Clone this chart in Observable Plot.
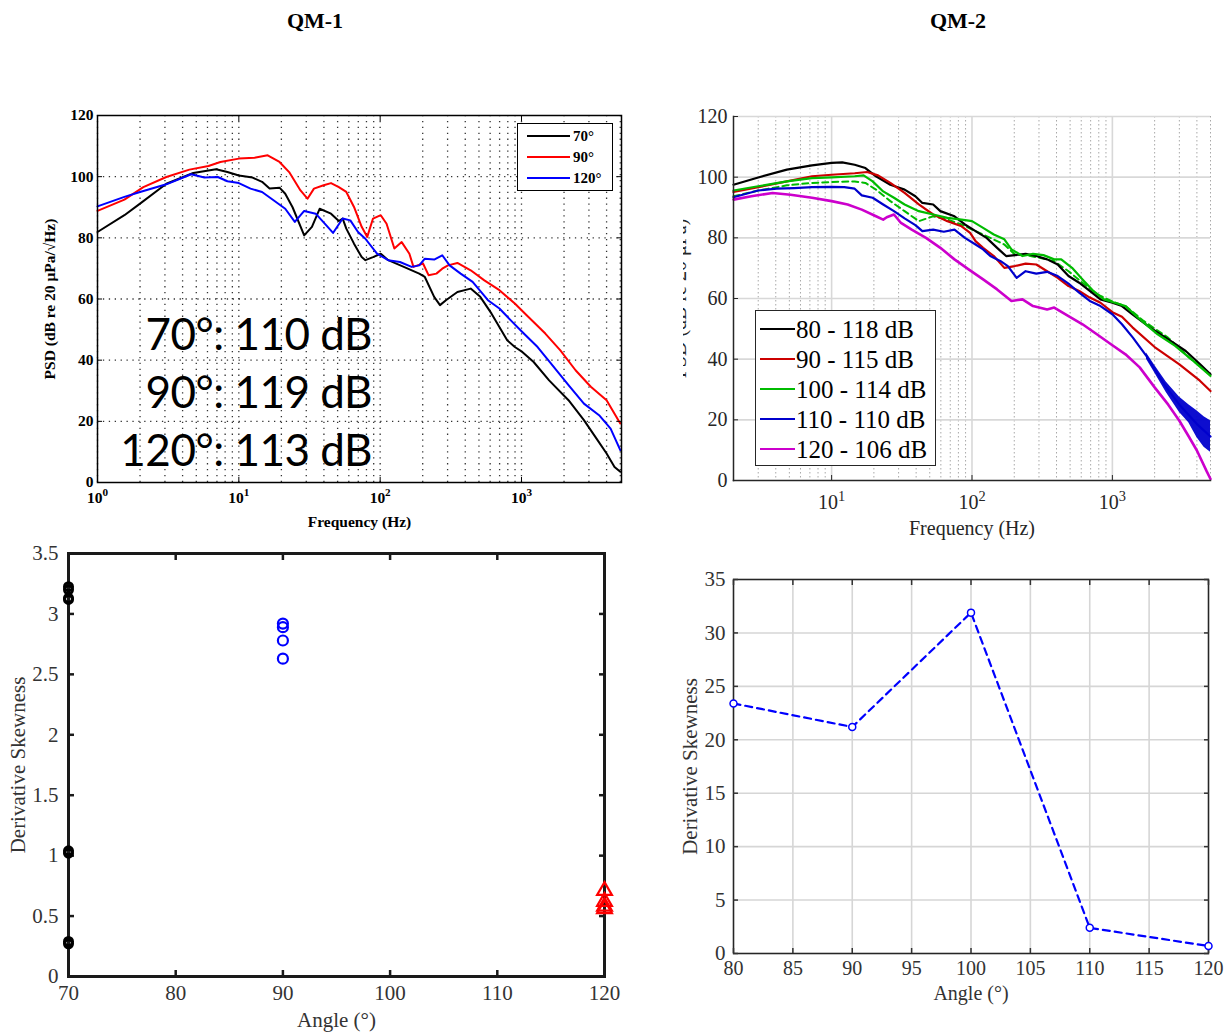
<!DOCTYPE html>
<html>
<head>
<meta charset="utf-8">
<script src="https://cdn.jsdelivr.net/npm/d3@7"></script>
<script src="https://cdn.jsdelivr.net/npm/@observablehq/plot@0.6"></script>
<style>
  html,body{margin:0;padding:0;background:#fff;}
  #fig{position:relative;width:1225px;height:1032px;overflow:hidden;background:#fff;}
  .box{position:absolute;}
  .title{position:absolute;top:8px;width:200px;text-align:center;font:bold 22px "Liberation Serif",serif;color:#000;}
  .note{position:absolute;left:0;top:304px;width:372px;text-align:right;font:44px Lato,"Open Sans",sans-serif;line-height:58px;color:#000;letter-spacing:-0.5px;}
  .legend{position:absolute;background:#fff;box-sizing:border-box;}
</style>
</head>
<body>
<div id="fig"></div>
<script>
// ---------------- DATA ----------------
const panelTitles = ["QM-1", "QM-2"];

// QM-1 PSD, [frequency (Hz), PSD (dB)]
const qm1_70 = [[1,81.9],[1.55,87.4],[2,91.2],[3.07,97.7],[4.76,101.2],[6.9,102.4],[8.3,101.5],[10,100.4],[12.5,99.7],[14.6,98.3],[16.5,96.1],[19.4,96.4],[21.3,94.4],[24,90],[29,80.8],[32.9,83.6],[37.3,89.5],[44.9,87.9],[51,85.5],[54.3,86.3],[57.6,83],[65.3,78.1],[74,73.7],[78.6,72.7],[89,73.7],[101,74.8],[114,72.7],[147,70.5],[189,68.3],[207,67.2],[241,60.7],[265,58],[292,59.6],[352,62.3],[437,63.4],[511,60.7],[614,55.2],[792,46.5],[897,44.3],[1013,42.7],[1219,39.4],[1568,33.4],[2151,26.9],[2765,20.4],[3330,14.9],[4000,9.5],[4553,5.1],[5000,3.5]];
const qm1_90 = [[1,88.8],[1.55,92.5],[2.11,96.6],[3.07,99.9],[4.47,102.3],[6.1,103.5],[7.4,104.8],[10,105.9],[12.9,106.2],[16,107],[19.4,104.8],[22.7,101.5],[27.3,95.5],[30.6,92.8],[34,96.1],[39.8,97.2],[44.9,97.9],[51,96.6],[57.6,95],[65.3,90.1],[74,83.6],[81,80.3],[89,86.3],[101,87.4],[111,84.6],[126,76.5],[142,78.6],[161,74.8],[172,70.5],[201,71.6],[220,67.8],[250,68.3],[275,69.9],[302,71],[352,71.8],[437,69.4],[546,66.1],[698,62.9],[897,58.5],[1088,54.7],[1474,48.7],[1883,43.2],[2413,36.7],[3094,31.3],[4000,26.9],[5000,19.3]];
const qm1_120 = [[1,90.3],[1.55,93.4],[2,95],[3.07,97.5],[4.6,100.8],[5.7,99.7],[7.1,99.9],[8.3,98.5],[10,97.9],[12.1,96.1],[14.6,95],[17.6,92.3],[21.3,89.5],[24.9,85.2],[29,88.8],[35,87.9],[41,84.4],[46.4,81.6],[54.3,86.3],[61.5,85.7],[69.7,81.9],[78.6,79.7],[95,74.8],[114,72.7],[138,72.1],[167,70.5],[189,71],[207,73.2],[241,72.9],[275,74.3],[310,71],[371,68.3],[451,65.6],[579,59.6],[698,56.9],[840,53],[1013,49.2],[1300,44.3],[1657,38.3],[2151,31.8],[2765,25.8],[3540,22],[4270,17.6],[5000,10.6]];
const qm1Legend = ["70°", "90°", "120°"];
const qm1Colors = ["#000000", "#ff0000", "#0000ff"];
const qm1Oaspl = ["70°: 110 dB", "90°: 119 dB", "120°: 113 dB"];

// QM-2 PSD, [frequency (Hz), PSD (dB)]
const qm2_80 = [[2,97.5],[3,99.9],[4.8,102.5],[7.25,103.9],[10,104.7],[11.9,104.9],[14.6,104.1],[17.4,103],[20.7,100.3],[26.2,97.5],[33.1,95.9],[39.5,93.7],[44.3,91.5],[52.9,91],[59.5,88.8],[75,87.1],[89,84.4],[106,82.2],[127,80],[151,76.7],[175,74],[202,74.3],[241,74.7],[287,74],[343,72.9],[408,71.2],[487,67.4],[580,65.2],[690,62.5],[823,59.7],[1000,58.6],[1170,57.5],[1390,54.8],[1860,50.4],[2490,46.6],[3330,42.7],[4200,38.4],[5000,35]];
const qm2_90 = [[2,95.1],[3,96.7],[4.8,98.6],[7.25,100.3],[10,100.8],[14.6,101.3],[17.9,101.7],[21.4,100.6],[26.2,98.1],[33.1,94.8],[41.8,91],[52.9,87.7],[66.8,85.5],[84.3,83.8],[97,81.6],[106,78.9],[120,76.7],[143,74],[170,70.1],[202,70.7],[241,71.5],[287,71.2],[343,69],[408,66.8],[487,64.1],[580,62.5],[690,60.3],[823,58.6],[1000,55.5],[1170,54],[1390,50.5],[2000,44],[3000,38.3],[4200,32.9],[5000,29.5]];
const qm2_100 = [[2,95.6],[3,97],[4.8,98.6],[7.25,99.7],[10,99.9],[14.6,100.3],[16.9,100.6],[19.6,98.6],[23.3,95.3],[27.8,93.2],[33.1,91],[41.8,88.8],[52.9,87.7],[66.8,86.6],[84.3,86],[100,85.5],[120,83.3],[143,81.1],[170,79.5],[191,76.2],[229,74],[272,74.7],[323,74.3],[385,72.9],[432,72.9],[516,70.1],[613,66.3],[732,62.5],[871,59.7],[1040,58.6],[1240,57.5],[1565,53.2],[2100,48.2],[2800,44.4],[3750,39.5],[5000,34.5]];
const qm2_100dash = [[2,93.7],[3,95.6],[4.8,97.3],[7.25,98.1],[10,98.4],[14.6,98.6],[17.4,98.1],[20.7,95.9],[26.2,92.1],[33.1,88.8],[41.8,85.5],[52.9,87.1],[66.8,86],[84.3,84.4],[106,82.2],[135,80],[170,77.8],[202,74.5],[241,74.3],[303,73.4],[385,72.3],[487,69],[613,65.2],[775,61.4],[1000,59],[1240,57.5],[1670,52.6],[2490,47.1],[3530,40.5],[5000,35]];
const qm2_110 = [[2,93.4],[3,95.6],[4.05,96.2],[5.4,96.4],[7.25,96.7],[10,96.8],[12.3,96.7],[14.6,96.2],[16.4,94],[19.6,93.2],[23.3,91],[27.8,88.8],[33.1,86.4],[39.5,84.2],[44.3,82.2],[52.9,82.7],[63,82],[75,82.7],[89,80],[106,77.8],[120,76.2],[135,74],[160,72.3],[180,70.7],[208,66.8],[241,69],[287,68.2],[343,68.8],[408,67.4],[487,64.9],[580,61.9],[690,59.2],[823,57.5],[1000,54.8],[1170,51.5],[1400,47.1],[1750,41],[2000,36.7],[2420,30.7],[3000,25],[4000,18.6],[5000,14.5]];
// spread of the noisy 110° trace at high frequency
const qm2_110bandFreq = [1750, 2000, 2420, 3000, 3500, 4000, 4500, 5000];
const qm2_110bandLow = [40, 35.5, 29, 22.5, 19, 14.2, 11, 9.3];
const qm2_110bandHigh = [42, 38, 32.5, 27.5, 25, 23, 21, 19.7];
const qm2_120 = [[2,92.6],[2.68,93.7],[3.8,94.8],[5.1,94.2],[7.25,93.2],[10,92.1],[13,91],[16.4,89.3],[20.7,87.1],[23.3,86],[24.7,86.8],[27.8,87.7],[31.2,84.9],[37.2,82.7],[47,80],[59.5,76.7],[75,72.9],[94.6,69.6],[120,66.3],[151,63],[191,59.2],[229,59.7],[272,57.5],[343,56.4],[385,57],[487,54.2],[613,51.5],[775,48.2],[1000,44.6],[1240,41.6],[1565,37.3],[2000,30.7],[2500,25],[3000,19.7],[3500,14.5],[4000,9.9],[4700,3],[5000,0.5]];
const qm2Legend = ["80 - 118 dB", "90 - 115 dB", "100 - 114 dB", "110 - 110 dB", "120 - 106 dB"];
const qm2Colors = ["#000000", "#cc0000", "#00bb00", "#0000cc", "#cc00cc"];

// QM-1 derivative skewness by angle
const qm1SkewAngles = [70, 90, 120];
const qm1Skew70 = [3.225, 3.2, 3.13, 3.12, 1.04, 1.02, 0.29, 0.27];
const qm1Skew90 = [2.92, 2.89, 2.78, 2.63];
const qm1Skew120 = [0.71, 0.62, 0.58, 0.56];

// QM-2 derivative skewness by angle
const qm2Angles = [80, 90, 100, 110, 120];
const qm2Skew = [23.4, 21.2, 31.9, 2.4, 0.7];

// tick labels
const psdTicks = [0, 20, 40, 60, 80, 100, 120];
const skew1Ticks = [0, 0.5, 1, 1.5, 2, 2.5, 3, 3.5];
const angle1Ticks = [70, 80, 90, 100, 110, 120];
const skew2Ticks = [0, 5, 10, 15, 20, 25, 30, 35];
const angle2Ticks = [80, 85, 90, 95, 100, 105, 110, 115, 120];

// ---------------- HELPERS ----------------
const fig = document.getElementById("fig");
const rows = arr => arr.map(([f, v]) => ({f, v}));
function place(el, left, top, w, h, clip) {
  const d = document.createElement("div");
  d.className = "box";
  Object.assign(d.style, {left: left + "px", top: top + "px", width: w + "px", height: h + "px"});
  if (clip) d.style.overflow = "hidden";
  d.appendChild(el);
  fig.appendChild(d);
  return d;
}
function superscriptTicks(svg) {
  d3.select(svg).selectAll("text").each(function () {
    const m = /^10\^(\d+)$/.exec(this.textContent);
    if (m) {
      this.textContent = "";
      const s = d3.select(this);
      s.append("tspan").text("10");
      s.append("tspan").attr("dy", "-0.55em").attr("font-size", "0.72em").text(m[1]);
    }
  });
}
const pow10 = d => "10^" + Math.round(Math.log10(d));

// titles
panelTitles.forEach((t, i) => {
  const d = document.createElement("div");
  d.className = "title";
  d.style.left = (i === 0 ? 215 : 858) + "px";
  d.textContent = t;
  fig.appendChild(d);
});

// ---------------- PANEL 1: QM-1 PSD ----------------
{
  const minor = d3.scaleLog().domain([1, 5100]).ticks();
  const majors = [1, 10, 100, 1000];
  const dotted = {stroke: "#000", strokeOpacity: 0.8, strokeWidth: 1.3, strokeDasharray: "1.3,4.6"};
  const series = [qm1_70, qm1_90, qm1_120];
  const p = Plot.plot({
    width: 640, height: 440, marginLeft: 97, marginTop: 15, marginRight: 19, marginBottom: 58,
    style: {fontFamily: '"Liberation Serif", serif', fontWeight: "bold", fontSize: "15px", color: "#000", background: "#fff"},
    x: {type: "log", domain: [1, 5100]},
    y: {domain: [0, 120]},
    marks: [
      Plot.gridX(minor, dotted),
      Plot.gridY(psdTicks.filter(d => d > 0 && d < 120), dotted),
      ...series.map((s, i) => Plot.line(rows(s), {x: "f", y: "v", stroke: qm1Colors[i], strokeWidth: 2})),
      Plot.frame({stroke: "#000", strokeWidth: 1.5}),
      Plot.axisX(majors, {tickSize: 0, tickPadding: 9, tickFormat: pow10, label: "Frequency (Hz)", labelAnchor: "center", labelOffset: 44, labelArrow: false, fontSize: 15.5}),
      Plot.axisX(majors, {tickSize: -5, tickFormat: () => "", label: null}),
      Plot.axisX(majors, {anchor: "top", tickSize: -5, tickFormat: () => "", label: null}),
      Plot.axisY(psdTicks, {tickSize: 0, tickPadding: 4, label: "PSD (dB re 20 μPa/√Hz)", labelAnchor: "center", labelOffset: 54, labelArrow: false, fontSize: 15.5}),
      Plot.axisY(psdTicks, {tickSize: -5, tickFormat: () => "", label: null}),
      Plot.axisY(psdTicks, {anchor: "right", tickSize: -5, tickFormat: () => "", label: null})
    ]
  });
  superscriptTicks(p);
  place(p, 0, 100, 640, 440);

  // legend
  const lg = document.createElement("div");
  lg.className = "legend";
  Object.assign(lg.style, {left: "517px", top: "123px", width: "96px", height: "68px", border: "1.5px solid #000"});
  const ls = d3.create("svg").attr("width", 93).attr("height", 65)
    .style("font", 'bold 15px "Liberation Serif", serif');
  qm1Legend.forEach((t, i) => {
    const y = 12 + i * 21;
    ls.append("line").attr("x1", 9).attr("x2", 52).attr("y1", y).attr("y2", y).attr("stroke", qm1Colors[i]).attr("stroke-width", 1.8);
    ls.append("text").attr("x", 55).attr("y", y).attr("dy", "0.35em").text(t);
  });
  lg.appendChild(ls.node());
  fig.appendChild(lg);

  // overall levels annotation
  const n = document.createElement("div");
  n.className = "note";
  n.innerHTML = qm1Oaspl.map(t => `<div>${t}</div>`).join("");
  fig.appendChild(n);
}

// ---------------- PANEL 2: QM-2 PSD ----------------
{
  const all = d3.scaleLog().domain([2, 5000]).ticks();
  const majors = [10, 100, 1000];
  const minor = all.filter(d => !majors.includes(d));
  const series = [qm2_80, qm2_90, qm2_100, qm2_110, qm2_120];
  const band = qm2_110bandFreq.map((f, i) => ({f, lo: qm2_110bandLow[i], hi: qm2_110bandHigh[i]}));
  const p = Plot.plot({
    width: 542, height: 450, marginLeft: 50, marginTop: 16, marginRight: 15, marginBottom: 70,
    style: {fontFamily: '"Liberation Serif", serif', fontSize: "19px", color: "#262626", background: "#fff"},
    x: {type: "log", domain: [2, 5000]},
    y: {domain: [0, 120]},
    marks: [
      Plot.gridX(minor, {stroke: "#a8a8a8", strokeOpacity: 1, strokeWidth: 1, strokeDasharray: "1.5,2.5"}),
      Plot.gridX(majors, {stroke: "#d8d8d8", strokeOpacity: 1, strokeWidth: 1.6}),
      Plot.gridY(psdTicks.filter(d => d > 0), {stroke: "#d8d8d8", strokeOpacity: 1, strokeWidth: 1.6}),
      Plot.areaY(band, {x: "f", y1: "lo", y2: "hi", fill: qm2Colors[3], fillOpacity: 0.95, curve: "linear"}),
      Plot.line(rows(qm2_100dash), {x: "f", y: "v", stroke: qm2Colors[2], strokeWidth: 2, strokeDasharray: "6,4"}),
      ...series.map((s, i) => Plot.line(rows(s), {x: "f", y: "v", stroke: qm2Colors[i], strokeWidth: i === 4 ? 2.6 : 2.2})),
      Plot.frame({anchor: "left", stroke: "#262626", strokeWidth: 1.5}),
      Plot.frame({anchor: "bottom", stroke: "#262626", strokeWidth: 1.5}),
      Plot.axisX(majors, {tickSize: 0, tickPadding: 14, tickFormat: pow10, label: "Frequency (Hz)", labelAnchor: "center", labelOffset: 54, labelArrow: false, fontSize: 20}),
      Plot.axisX(majors, {tickSize: -5, tickFormat: () => "", label: null}),
      Plot.axisY(psdTicks, {tickSize: 0, tickPadding: 6, label: "PSD (dB re 20 μPa)", labelAnchor: "center", labelOffset: 62, labelArrow: false, fontSize: 20}),
      Plot.axisY(psdTicks, {tickSize: -5, tickFormat: () => "", label: null})
    ]
  });
  superscriptTicks(p);
  place(p, 683, 100, 542, 450, true);

  // legend
  const lg = document.createElement("div");
  lg.className = "legend";
  Object.assign(lg.style, {left: "755px", top: "310px", width: "181px", height: "156px", border: "1.6px solid #262626"});
  const ls = d3.create("svg").attr("width", 178).attr("height", 153)
    .style("font", '25px "Liberation Serif", serif');
  qm2Legend.forEach((t, i) => {
    const y = 18 + i * 30;
    ls.append("line").attr("x1", 4).attr("x2", 39).attr("y1", y).attr("y2", y).attr("stroke", qm2Colors[i]).attr("stroke-width", 2);
    ls.append("text").attr("x", 40).attr("y", y).attr("dy", "0.35em").attr("fill", "#000").text(t);
  });
  lg.appendChild(ls.node());
  fig.appendChild(lg);
}

// ---------------- PANEL 3: QM-1 skewness ----------------
{
  const pts70 = qm1Skew70.map(s => ({a: qm1SkewAngles[0], s}));
  const pts90 = qm1Skew90.map(s => ({a: qm1SkewAngles[1], s}));
  const pts120 = qm1Skew120.map(s => ({a: qm1SkewAngles[2], s}));
  const p = Plot.plot({
    width: 630, height: 492, marginLeft: 68, marginTop: 13, marginRight: 26, marginBottom: 56,
    style: {fontFamily: '"Liberation Serif", serif', fontSize: "19px", color: "#333", background: "#fff"},
    x: {domain: [70, 120]},
    y: {domain: [0, 3.5]},
    marks: [
      Plot.frame({stroke: "#1a1a1a", strokeWidth: 3}),
      Plot.axisX(angle1Ticks, {tickSize: 0, tickPadding: 9, label: "Angle (°)", labelAnchor: "center", labelOffset: 50, labelArrow: false, fontSize: 21}),
      Plot.axisX(angle1Ticks, {tickSize: -6, strokeWidth: 2.5, tickFormat: () => "", label: null, stroke: "#1a1a1a"}),
      Plot.axisX(angle1Ticks, {anchor: "top", tickSize: -6, strokeWidth: 2.5, tickFormat: () => "", label: null, stroke: "#1a1a1a"}),
      Plot.axisY(skew1Ticks, {tickSize: 0, tickPadding: 10, tickFormat: d => String(d), label: "Derivative Skewness", labelAnchor: "center", labelOffset: 58, labelArrow: false, fontSize: 21}),
      Plot.axisY(skew1Ticks, {tickSize: -6, strokeWidth: 2.5, tickFormat: () => "", label: null, stroke: "#1a1a1a"}),
      Plot.axisY(skew1Ticks, {anchor: "right", tickSize: -6, strokeWidth: 2.5, tickFormat: () => "", label: null, stroke: "#1a1a1a"}),
      Plot.dot(pts70, {x: "a", y: "s", r: 4, stroke: "#000", strokeWidth: 3, fill: "none"}),
      Plot.dot(pts90, {x: "a", y: "s", r: 5, stroke: "#0000ff", strokeWidth: 2.2, fill: "none"}),
      Plot.dot(pts120, {x: "a", y: "s", r: 5.5, symbol: "triangle", stroke: "#ff0000", strokeWidth: 2.2, fill: "none"})
    ]
  });
  place(p, 0, 540, 630, 492);
}

// ---------------- PANEL 4: QM-2 skewness ----------------
{
  const pts = qm2Angles.map((a, i) => ({a, s: qm2Skew[i]}));
  const p = Plot.plot({
    width: 555, height: 472, marginLeft: 63, marginTop: 19, marginRight: 17, marginBottom: 79,
    style: {fontFamily: '"Liberation Serif", serif', fontSize: "19px", color: "#333", background: "#fff"},
    x: {domain: [80, 120]},
    y: {domain: [0, 35]},
    marks: [
      Plot.gridX(angle2Ticks, {stroke: "#d6d6d6", strokeOpacity: 1, strokeWidth: 1.6}),
      Plot.gridY(skew2Ticks, {stroke: "#d6d6d6", strokeOpacity: 1, strokeWidth: 1.6}),
      Plot.frame({stroke: "#262626", strokeWidth: 1.5}),
      Plot.axisX(angle2Ticks, {tickSize: 0, tickPadding: 7, label: "Angle (°)", labelAnchor: "center", labelOffset: 46, labelArrow: false, fontSize: 20}),
      Plot.axisX(angle2Ticks, {tickSize: -5, strokeWidth: 1.5, tickFormat: () => "", label: null}),
      Plot.axisX(angle2Ticks, {anchor: "top", tickSize: -5, strokeWidth: 1.5, tickFormat: () => "", label: null}),
      Plot.axisY(skew2Ticks, {tickSize: 0, tickPadding: 8, label: "Derivative Skewness", labelAnchor: "center", labelOffset: 51, labelArrow: false, fontSize: 21}),
      Plot.axisY(skew2Ticks, {tickSize: -5, strokeWidth: 1.5, tickFormat: () => "", label: null}),
      Plot.axisY(skew2Ticks, {anchor: "right", tickSize: -5, strokeWidth: 1.5, tickFormat: () => "", label: null}),
      Plot.line(pts, {x: "a", y: "s", stroke: "#0000ff", strokeWidth: 2.2, strokeDasharray: "7,5"}),
      Plot.dot(pts, {x: "a", y: "s", r: 3.5, stroke: "#0000ff", strokeWidth: 1.5, fill: "#fff"})
    ]
  });
  place(p, 670, 560, 555, 472);
}
</script>
</body>
</html>
